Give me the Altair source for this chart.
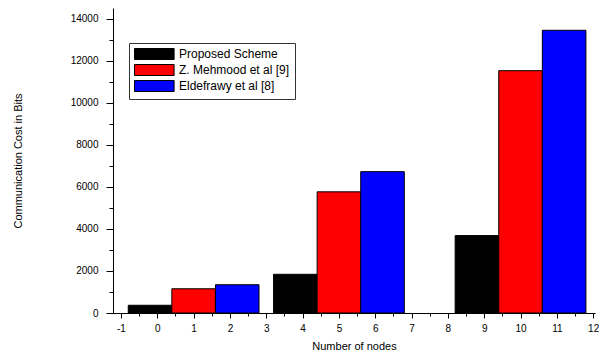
import altair as alt
import pandas as pd

nodes = [1, 5, 10]
series_names = ["Proposed Scheme", "Z. Mehmood et al [9]", "Eldefrawy et al [8]"]
proposed = [368, 1840, 3680]
mehmood = [1152, 5760, 11520]
eldefrawy = [1344, 6720, 13440]
colors = ["#000000", "#ff0000", "#0000ff"]
x_tick_values = [-1, -0.5, 0, 0.5, 1, 1.5, 2, 2.5, 3, 3.5, 4, 4.5, 5, 5.5, 6, 6.5,
                 7, 7.5, 8, 8.5, 9, 9.5, 10, 10.5, 11, 11.5, 12]
y_tick_values = [0, 1000, 2000, 3000, 4000, 5000, 6000, 7000, 8000, 9000, 10000,
                 11000, 12000, 13000, 14000]

rows = []
for k, (name, vals) in enumerate(zip(series_names, [proposed, mehmood, eldefrawy])):
    for n, v in zip(nodes, vals):
        rows.append({"node": n, "series": name, "k": k, "value": v})
df = pd.DataFrame(rows)

FONT = "Liberation Sans"

chart = alt.Chart(df).transform_calculate(
    x0="datum.node + (datum.k - 1) * 1.2 - 0.6",
    x1="datum.node + (datum.k - 1) * 1.2 + 0.6",
).mark_bar(stroke="black", strokeWidth=1, opacity=1).encode(
    x=alt.X(
        "x0:Q",
        scale=alt.Scale(domain=[-1.22, 12.05], nice=False, zero=False),
        axis=alt.Axis(
            values=x_tick_values,
            labelExpr="datum.value % 1 == 0 ? '' + datum.value : ''",
            tickSize={"condition": {"test": "datum.value % 1 != 0", "value": 3}, "value": 5},
            labelPadding=5,
            grid=False,
            title="Number of nodes",
            titlePadding=7,
            titleFontSize=11,
            labelFontSize=10,
        ),
    ),
    x2="x1:Q",
    y=alt.Y(
        "value:Q",
        scale=alt.Scale(domain=[0, 14500], nice=False),
        axis=alt.Axis(
            values=y_tick_values,
            labelExpr="datum.value % 2000 == 0 ? '' + datum.value : ''",
            tickSize={"condition": {"test": "datum.value % 2000 != 0", "value": 4}, "value": 7},
            labelPadding=8,
            grid=False,
            title="Communication Cost in Bits",
            titlePadding=47,
            titleFontSize=11,
            labelFontSize=10,
        ),
    ),
    y2=alt.datum(0),
    color=alt.Color(
        "series:N",
        scale=alt.Scale(domain=series_names, range=colors),
        legend=alt.Legend(
            orient="none",
            legendX=16,
            legendY=35,
            title=None,
            symbolType="M-1,-1L6.2,-1L6.2,1L-1,1Z",
            symbolSize=121,
            symbolStrokeColor="black",
            symbolStrokeWidth=1,
            symbolOpacity=1,
            labelOffset=33,
            labelFontSize=12,
            labelFont=FONT,
            labelLimit=400,
            padding=5,
            rowPadding=0,
            strokeColor="#333333",
            fillColor="white",
        ),
    ),
).properties(
    width=482,
    height=305,
    padding={"left": 4, "top": 0, "right": 0, "bottom": 0},
).configure_view(
    stroke=None
).configure_axis(
    domainColor="black",
    tickColor="black",
    labelColor="black",
    titleColor="black",
    labelFont=FONT,
    titleFont=FONT,
    titleFontWeight="normal",
)

chart.save("out.html", embed_options={"renderer": "svg", "actions": False})
